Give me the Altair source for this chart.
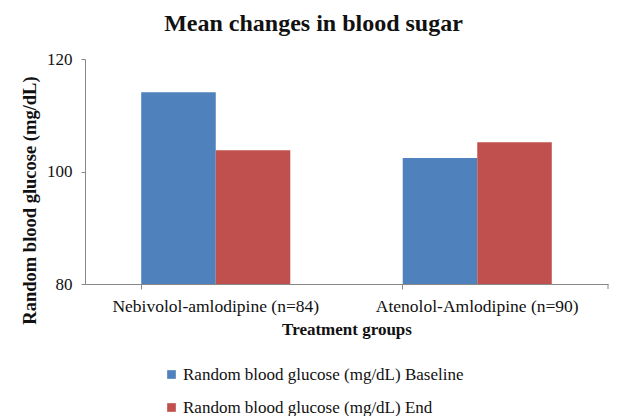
import altair as alt
import pandas as pd

# Mean random blood glucose (mg/dL) by treatment group
groups = ["Nebivolol-amlodipine (n=84)", "Atenolol-Amlodipine (n=90)"]
series = ["Random blood glucose (mg/dL) Baseline", "Random blood glucose (mg/dL) End"]
baseline = [114.1, 102.4]
end = [103.8, 105.2]
colors = ["#4F81BD", "#C0504D"]

rows = []
for g, b, e in zip(groups, baseline, end):
    rows.append({"group": g, "series": series[0], "value": b})
    rows.append({"group": g, "series": series[1], "value": e})
df = pd.DataFrame(rows)

FONT = "Liberation Serif"
W, H = 523, 225

bars = alt.Chart(df).mark_bar(clip=True).encode(
    x=alt.X(
        "group:N",
        sort=groups,
        scale=alt.Scale(paddingInner=0.43, paddingOuter=0.215),
        axis=alt.Axis(
            title="Treatment groups",
            labelAngle=0,
            labelLimit=0,
            labelFont=FONT,
            labelFontSize=17.5,
            labelColor="#111",
            labelPadding=8,
            titleFont=FONT,
            titleFontSize=17,
            titleFontWeight="bold",
            titleColor="#111",
            titlePadding=7,
            domainColor="#888",
            tickColor="#888",
            tickSize=5,
            bandPosition=0,
        ),
    ),
    xOffset=alt.XOffset("series:N", sort=series),
    y=alt.Y(
        "value:Q",
        scale=alt.Scale(domain=[80, 120], zero=False, nice=False),
        axis=alt.Axis(
            title="Random blood glucose (mg/dL)",
            values=[80, 100, 120],
            grid=False,
            labelFont=FONT,
            labelFontSize=17,
            labelColor="#111",
            labelPadding=9,
            titleFont=FONT,
            titleFontSize=18.5,
            titleFontWeight="bold",
            titleColor="#111",
            titleX=-56,
            titleY=141,
            titleAlign="center",
            titleBaseline="middle",
            domainColor="#888",
            tickColor="#888",
            tickSize=4,
        ),
    ),
    color=alt.Color(
        "series:N",
        sort=series,
        scale=alt.Scale(domain=series, range=colors),
        legend=alt.Legend(
            title=None,
            orient="none",
            legendX=78,
            legendY=307,
            symbolType="square",
            symbolSize=75,
            symbolStrokeWidth=0,
            labelFont=FONT,
            labelFontSize=17,
            labelColor="#111",
            labelLimit=0,
            rowPadding=15,
            labelOffset=3,
        ),
    ),
)

# closing tick at the right end of the category axis
end_tick = alt.Chart(pd.DataFrame({"k": [0]})).mark_rule(color="#888").encode(
    x=alt.value(W), y=alt.value(H), y2=alt.value(H + 5)
)

chart = (
    alt.layer(bars, end_tick)
    .properties(
        width=W,
        height=H,
        background="white",
        title=alt.TitleParams(
            "Mean changes in blood sugar",
            font=FONT,
            fontSize=24,
            fontWeight="bold",
            color="#111",
            dx=-33,
            offset=14,
        ),
        autosize=alt.AutoSizeParams(type="none"),
        padding={"left": 85, "top": 59, "right": 10, "bottom": 132},
    )
    .configure_view(stroke="transparent", strokeWidth=0)
)

chart.save("out.html", embed_options={"renderer": "svg", "actions": False})
